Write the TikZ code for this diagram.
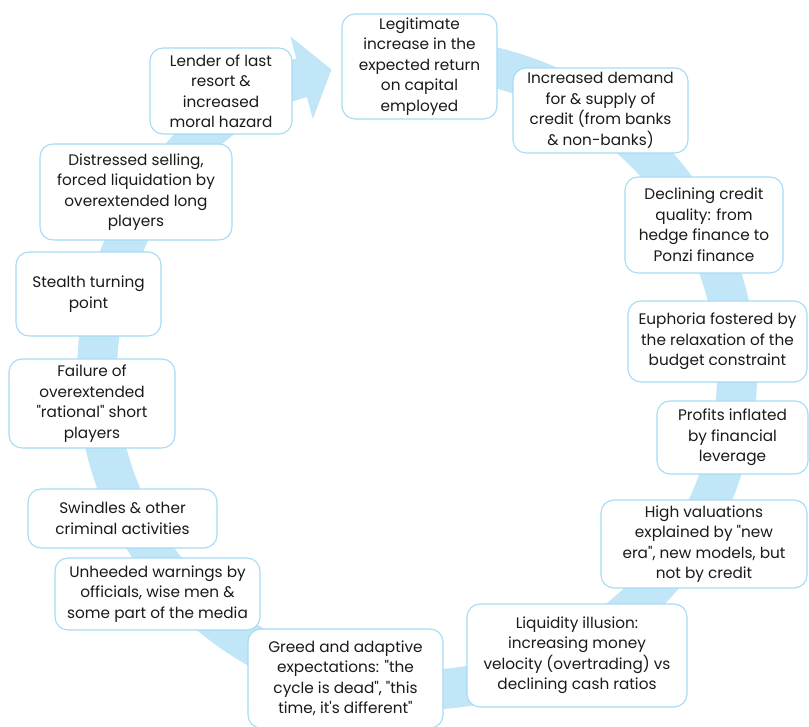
\documentclass[tikz,border=0pt]{standalone}
\usepackage{fontspec}
\setmainfont{Poppins}
\usetikzlibrary{arrows.meta}
\definecolor{ringblue}{HTML}{C0E6F8}
\definecolor{edgeblue}{HTML}{A6DBF4}
\definecolor{inkgray}{HTML}{1A1A1A}
\newcommand{\dq}{\textquotedbl}
\tikzset{
  stage/.style={draw=edgeblue, line width=1.1pt, fill=white, rounded corners=13pt,
    align=center, inner sep=0pt, text=inkgray,
    font=\fontsize{15.3}{20.5}\selectfont},
  ring/.style={draw=ringblue, line width=40pt}
}
\begin{document}
\begin{tikzpicture}[x=1pt, y=1pt]
            \useasboundingbox (0,0) rectangle (809,727);
            % Ring
            \coordinate (hub) at (417,353);
            \draw[ring, -{Triangle[width=84pt, length=31pt, fill=ringblue]}]
                (hub) ++(88:320 and 316) arc[start angle=88, end angle=-254.5, x radius=320, y radius=316];

            % Nodes
            \node[stage, minimum width=155, minimum height=105] (legit) at (419.5,660.5) {Legitimate\\increase in the\\expected return\\on capital\\employed};
            \node[stage, minimum width=175, minimum height=85] (demand) at (600.5,616.5) {Increased demand\\for \& supply of\\credit (from banks\\\& non-banks)};
            \node[stage, minimum width=158, minimum height=96] (quality) at (704,502) {Declining credit\\quality: from\\hedge finance to\\Ponzi finance};
            \node[stage, minimum width=179, minimum height=81] (euphoria) at (717.5,385.5) {Euphoria fostered by\\the relaxation of the\\budget constraint};
            \node[stage, minimum width=151, minimum height=73] (profits) at (732.5,289.5) {Profits inflated\\by financial\\leverage};
            \node[stage, minimum width=206, minimum height=88] (valuations) at (704,183) {High valuations\\explained by \dq new\\era\dq, new models, but\\not by credit};
            \node[stage, minimum width=220, minimum height=103] (liquidity) at (577,71.5) {Liquidity illusion:\\increasing money\\velocity (overtrading) vs\\declining cash ratios};
            \node[stage, minimum width=195, minimum height=99] (greed) at (345.5,48.5) {Greed and adaptive\\expectations: \dq the\\cycle is dead\dq, \dq this\\time, it\textquotesingle s different\dq};
            \node[stage, minimum width=205, minimum height=72] (unheeded) at (157.5,133) {Unheeded warnings by\\officials, wise men \&\\some part of the media};
            \node[stage, minimum width=189, minimum height=59] (swindles) at (122.5,208.5) {Swindles \& other\\criminal activities};
            \node[stage, minimum width=166, minimum height=89] (failure) at (92,323.5) {Failure of\\overextended\\\dq rational\dq{} short\\players};
            \node[stage, minimum width=145, minimum height=84] (stealth) at (88.5,433) {Stealth turning\\point};
            \node[stage, minimum width=192, minimum height=96] (distressed) at (136,535) {Distressed selling,\\forced liquidation by\\overextended long\\players};
            \node[stage, minimum width=142, minimum height=86] (lender) at (221,636) {Lender of last\\resort \&\\increased\\moral hazard};
        \end{tikzpicture}
\end{document}
